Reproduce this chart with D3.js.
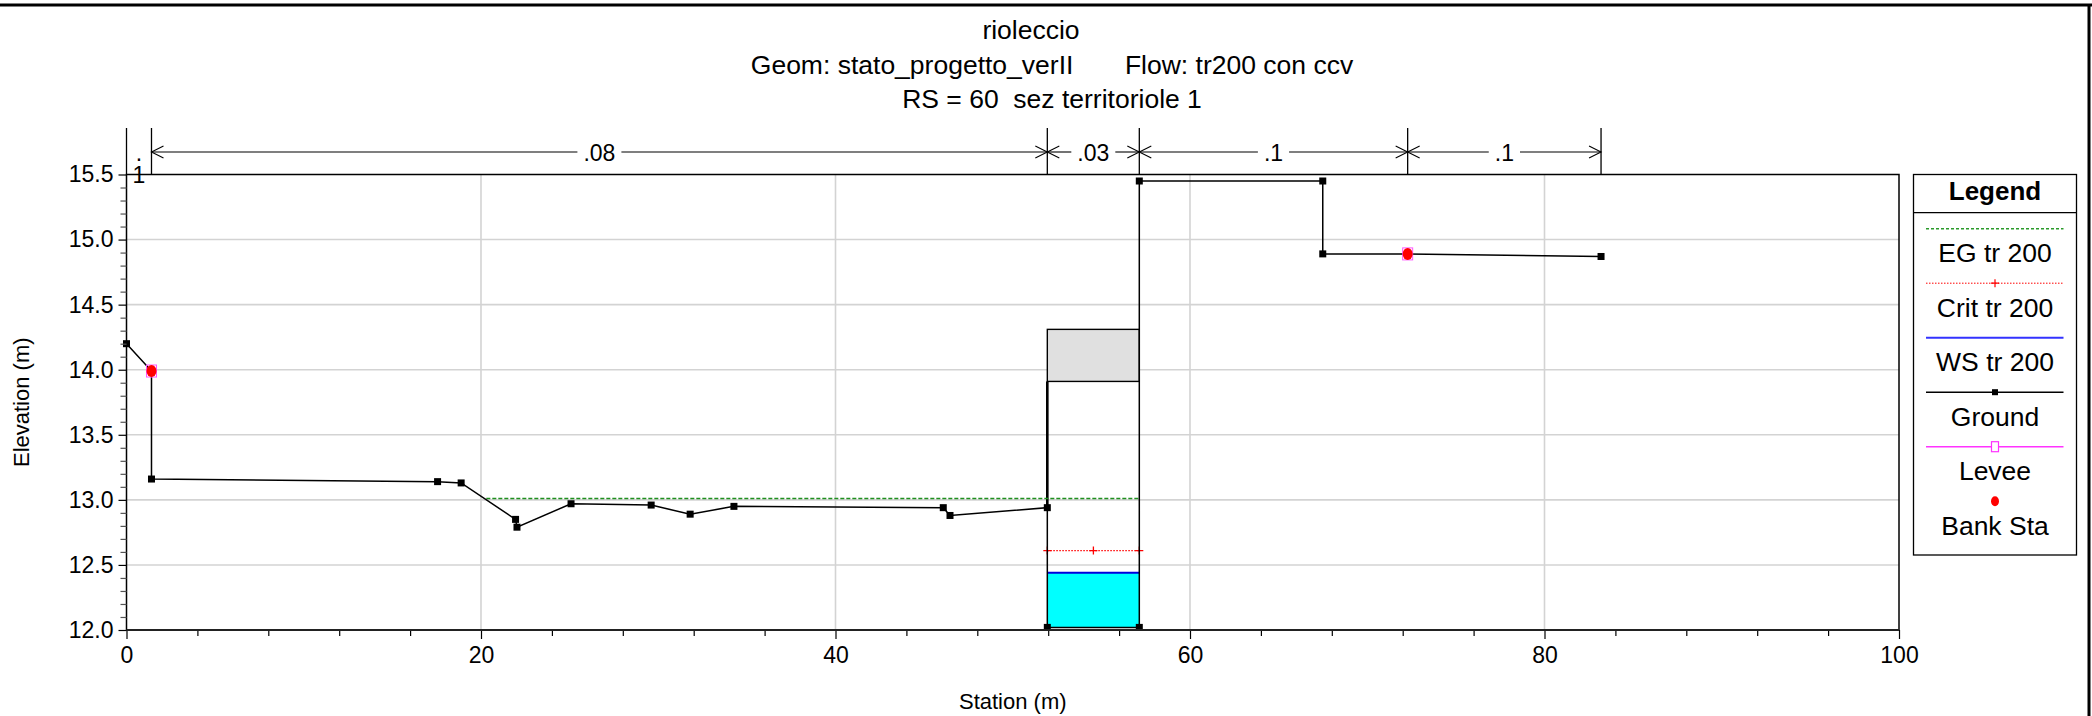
<!DOCTYPE html>
<html>
<head>
<meta charset="utf-8">
<script src="https://cdn.jsdelivr.net/npm/d3@7"></script>
<style>
  html, body { margin: 0; padding: 0; background: #fff; }
  svg { display: block; font-family: "Liberation Sans", Arial, Helvetica, sans-serif; }
  text { white-space: pre; }
</style>
</head>
<body>
<div id="chart"></div>
<script>
// titoli
const titleLines = ["rioleccio", "Geom: stato_progetto_verII       Flow: tr200 con ccv", "RS = 60  sez territoriole 1"];

// terreno (stazione, quota)
const groundSta  = [0, 1.41, 1.41, 17.55, 18.88, 21.95, 22.03, 25.08, 29.6, 31.8, 34.27, 46.08, 46.46, 51.95, 51.95, 57.14, 57.14, 67.49, 67.49, 72.28, 83.19];
const groundElev = [14.2, 13.99, 13.16, 13.14, 13.13, 12.85, 12.79, 12.97, 12.96, 12.89, 12.95, 12.94, 12.88, 12.94, 12.02, 12.02, 15.45, 15.45, 14.89, 14.89, 14.87];

// sponde
const bankSta  = [1.41, 72.28];
const bankElev = [13.99, 14.89];

// impalcato ponte
const deckSta = [51.95, 57.14];
const deckHigh = 14.31;
const deckLow = 13.91;

// profili
const egSta = [20.3, 57.14];
const egElev = 13.01;
const critSta = [51.95, 54.55, 57.14];
const critElev = 12.61;
const wsSta = [51.95, 57.14];
const wsElev = 12.44;

// scabrezza di Manning
const nSta = [0, 1.41, 51.95, 57.14, 72.28, 83.19];
const nVal = [".1", ".08", ".03", ".1", ".1"];

// assi
const xTicks = [0, 20, 40, 60, 80, 100];
const yTicks = [12.0, 12.5, 13.0, 13.5, 14.0, 14.5, 15.0, 15.5];

const legendItems = ["EG tr 200", "Crit tr 200", "WS tr 200", "Ground", "Levee", "Bank Sta"];

const W = 2092, H = 716;
const pL = 126.5, pR = 1899, pT = 174.5, pB = 630;

const svg = d3.select("#chart").append("svg")
    .attr("width", W)
    .attr("height", H);

const x = d3.scaleLinear().domain([0, 100]).range([pL, pR]);
const y = d3.scaleLinear().domain([12, 15.5]).range([pB, pT]);

// cornice esterna
svg.append("line").attr("x1", 0).attr("x2", W).attr("y1", 5).attr("y2", 5)
    .attr("stroke", "#000").attr("stroke-width", 3);
svg.append("line").attr("x1", 2089).attr("x2", 2089).attr("y1", 4).attr("y2", H)
    .attr("stroke", "#000").attr("stroke-width", 3);

// titolo
const titleX = [1031, 1052, 1052];
const titleY = [39, 74, 108];
svg.selectAll(".title")
    .data(titleLines)
    .enter().append("text")
    .attr("class", "title")
    .attr("x", (d, i) => titleX[i])
    .attr("y", (d, i) => titleY[i])
    .attr("text-anchor", "middle")
    .attr("font-size", 26.5)
    .text(d => d);

// griglia
svg.append("g").selectAll("line")
    .data(yTicks.filter(d => d > 12 && d < 15.5))
    .enter().append("line")
    .attr("x1", pL).attr("x2", pR)
    .attr("y1", d => y(d)).attr("y2", d => y(d))
    .attr("stroke", "#d3d3d3").attr("stroke-width", 1.6);
svg.append("g").selectAll("line")
    .data(xTicks.filter(d => d > 0 && d < 100))
    .enter().append("line")
    .attr("x1", d => x(d)).attr("x2", d => x(d))
    .attr("y1", pT).attr("y2", pB)
    .attr("stroke", "#d3d3d3").attr("stroke-width", 1.6);

// acqua
svg.append("rect")
    .attr("x", x(wsSta[0])).attr("width", x(wsSta[1]) - x(wsSta[0]))
    .attr("y", y(wsElev)).attr("height", y(groundElev[14]) - y(wsElev))
    .attr("fill", "#00ffff");

// impalcato
svg.append("rect")
    .attr("x", x(deckSta[0])).attr("width", x(deckSta[1]) - x(deckSta[0]))
    .attr("y", y(deckHigh)).attr("height", y(deckLow) - y(deckHigh))
    .attr("fill", "#e0e0e0").attr("stroke", "#000").attr("stroke-width", 1.4);
svg.append("line")
    .attr("x1", x(deckSta[0])).attr("x2", x(deckSta[0]))
    .attr("y1", y(deckLow)).attr("y2", y(groundElev[13]))
    .attr("stroke", "#000").attr("stroke-width", 2.6);

// EG
svg.append("line")
    .attr("x1", x(egSta[0])).attr("x2", x(egSta[1]))
    .attr("y1", y(egElev)).attr("y2", y(egElev))
    .attr("stroke", "#1f8f1f").attr("stroke-width", 1.6).attr("stroke-dasharray", "4,2");

// Crit
svg.append("line")
    .attr("x1", x(critSta[0])).attr("x2", x(critSta[critSta.length - 1]))
    .attr("y1", y(critElev)).attr("y2", y(critElev))
    .attr("stroke", "#ff0000").attr("stroke-width", 1.2).attr("stroke-dasharray", "1.5,1.5");
svg.append("g").selectAll("path")
    .data(critSta)
    .enter().append("path")
    .attr("d", d => `M${x(d) - 4},${y(critElev)}h8M${x(d)},${y(critElev) - 4}v8`)
    .attr("stroke", "#ff0000").attr("stroke-width", 1.3);

// WS
svg.append("line")
    .attr("x1", x(wsSta[0])).attr("x2", x(wsSta[1]))
    .attr("y1", y(wsElev)).attr("y2", y(wsElev))
    .attr("stroke", "#0000dd").attr("stroke-width", 2.2);

// terreno
const groundPts = groundSta.map((s, i) => [s, groundElev[i]]);
svg.append("path")
    .attr("d", d3.line().x(d => x(d[0])).y(d => y(d[1]))(groundPts))
    .attr("fill", "none").attr("stroke", "#000").attr("stroke-width", 1.5);
svg.append("g").selectAll("rect")
    .data(groundPts)
    .enter().append("rect")
    .attr("x", d => x(d[0]) - 3.5).attr("y", d => y(d[1]) - 3.5)
    .attr("width", 7).attr("height", 7)
    .attr("fill", "#000");

// sponde
svg.append("g").selectAll("rect")
    .data(bankSta)
    .enter().append("rect")
    .attr("x", d => x(d) - 5).attr("y", (d, i) => y(bankElev[i]) - 6)
    .attr("width", 10).attr("height", 12)
    .attr("fill", "none").attr("stroke", "#ff55ff").attr("stroke-width", 1);
svg.append("g").selectAll("ellipse")
    .data(bankSta)
    .enter().append("ellipse")
    .attr("cx", d => x(d)).attr("cy", (d, i) => y(bankElev[i]))
    .attr("rx", 5).attr("ry", 6)
    .attr("fill", "#ff0000");

// cornice del grafico
svg.append("rect")
    .attr("x", pL).attr("y", pT)
    .attr("width", pR - pL).attr("height", pB - pT)
    .attr("fill", "none").attr("stroke", "#000").attr("stroke-width", 1.5);

// assi
const fmt = d3.format(".1f");
svg.append("g")
    .attr("transform", `translate(${pL},0)`)
    .call(d3.axisLeft(y).tickValues(yTicks).tickFormat(fmt).tickSize(8).tickPadding(5));
const yMinor = svg.append("g")
    .attr("transform", `translate(${pL},0)`)
    .call(d3.axisLeft(y).tickValues(d3.range(121, 156).map(d => d / 10).filter(d => Math.round(d * 10) % 5 !== 0))
        .tickFormat("").tickSize(6));
yMinor.selectAll("line").attr("stroke", "#555");

svg.append("g")
    .attr("transform", `translate(0,${pB})`)
    .call(d3.axisBottom(x).tickValues(xTicks).tickSize(9).tickPadding(8));
svg.append("g")
    .attr("transform", `translate(0,${pB})`)
    .call(d3.axisBottom(x).tickValues(d3.range(4, 100, 4).filter(d => d % 20 !== 0)).tickFormat("").tickSize(6));

svg.selectAll(".domain").remove();
svg.selectAll(".tick text")
    .attr("font-size", 23)
    .attr("font-family", "\"Liberation Sans\", Arial, Helvetica, sans-serif")
    .attr("fill", "#000");
svg.selectAll(".tick line").attr("stroke-width", 1.2);
svg.append("line").attr("x1", pL).attr("x2", pR).attr("y1", pB).attr("y2", pB)
    .attr("stroke", "#222").attr("stroke-width", 2);

svg.append("text")
    .attr("transform", `translate(29,${(pT + pB) / 2}) rotate(-90)`)
    .attr("text-anchor", "middle")
    .attr("font-size", 22)
    .text("Elevation (m)");
svg.append("text")
    .attr("x", (pL + pR) / 2).attr("y", 709)
    .attr("text-anchor", "middle")
    .attr("font-size", 22)
    .text("Station (m)");

// Manning
const nY = 152;
svg.append("g").selectAll("line")
    .data(nSta)
    .enter().append("line")
    .attr("x1", d => x(d)).attr("x2", d => x(d))
    .attr("y1", 128).attr("y2", pT)
    .attr("stroke", "#000").attr("stroke-width", 1.3);

nVal.forEach((v, i) => {
    const x0 = x(nSta[i]), x1 = x(nSta[i + 1]);
    const cx = (x0 + x1) / 2;
    if (x1 - x0 < 40) {
        // segmento stretto: testo a capo
        svg.append("text").attr("x", cx).attr("y", 161).attr("text-anchor", "middle")
            .attr("font-size", 23).text(v.slice(0, 1));
        svg.append("text").attr("x", cx).attr("y", 183).attr("text-anchor", "middle")
            .attr("font-size", 23).text(v.slice(1));
        return;
    }
    const t = svg.append("text").attr("x", cx).attr("y", nY + 8.5).attr("text-anchor", "middle")
        .attr("font-size", 23).text(v);
    const half = t.node().getComputedTextLength() / 2 + 6;
    const g = svg.append("g").attr("stroke", "#000").attr("stroke-width", 1.1).attr("fill", "none");
    g.append("line").attr("x1", x0).attr("x2", cx - half).attr("y1", nY).attr("y2", nY);
    g.append("line").attr("x1", cx + half).attr("x2", x1).attr("y1", nY).attr("y2", nY);
    g.append("path").attr("d", `M${x0 + 12},${nY - 6}L${x0},${nY}L${x0 + 12},${nY + 6}`);
    g.append("path").attr("d", `M${x1 - 12},${nY - 6}L${x1},${nY}L${x1 - 12},${nY + 6}`);
});

// legenda
const lg = svg.append("g");
const lgL = 1913.5, lgR = 2076.5, lgT = 174.5, lgB = 555;
const lgC = (lgL + lgR) / 2;
lg.append("rect").attr("x", lgL).attr("y", lgT).attr("width", lgR - lgL).attr("height", lgB - lgT)
    .attr("fill", "#fff").attr("stroke", "#000").attr("stroke-width", 1.3);
lg.append("line").attr("x1", lgL).attr("x2", lgR).attr("y1", 212.7).attr("y2", 212.7)
    .attr("stroke", "#000").attr("stroke-width", 1.3);
lg.append("text").attr("x", lgC).attr("y", 200).attr("text-anchor", "middle")
    .attr("font-size", 26).attr("font-weight", "bold").text("Legend");

const itemY = legendItems.map((d, i) => 228.7 + i * 54.5);
const sx0 = 1926, sx1 = 2063.5;
lg.selectAll(".lgtext")
    .data(legendItems)
    .enter().append("text")
    .attr("class", "lgtext")
    .attr("x", lgC).attr("y", (d, i) => itemY[i] + 33.6)
    .attr("text-anchor", "middle")
    .attr("font-size", 26.5)
    .text(d => d);

const sample = (i) => lg.append("line").attr("x1", sx0).attr("x2", sx1).attr("y1", itemY[i]).attr("y2", itemY[i]);
sample(0).attr("stroke", "#2a9a2a").attr("stroke-width", 1.6).attr("stroke-dasharray", "3,2");
sample(1).attr("stroke", "#ff0000").attr("stroke-width", 1).attr("stroke-dasharray", "1.5,1.5");
lg.append("path").attr("d", `M${lgC - 4},${itemY[1]}h8M${lgC},${itemY[1] - 4}v8`)
    .attr("stroke", "#ff0000").attr("stroke-width", 1.2);
sample(2).attr("stroke", "#3333ff").attr("stroke-width", 2);
sample(3).attr("stroke", "#000").attr("stroke-width", 1.4);
lg.append("rect").attr("x", lgC - 3).attr("y", itemY[3] - 3).attr("width", 6).attr("height", 6).attr("fill", "#000");
sample(4).attr("stroke", "#ff33ff").attr("stroke-width", 1.6);
lg.append("rect").attr("x", lgC - 3.5).attr("y", itemY[4] - 5).attr("width", 7).attr("height", 10)
    .attr("fill", "#fff").attr("stroke", "#ff33ff").attr("stroke-width", 1.2);
lg.append("ellipse").attr("cx", lgC).attr("cy", itemY[5]).attr("rx", 4).attr("ry", 5).attr("fill", "#ff0000");
</script>
</body>
</html>
